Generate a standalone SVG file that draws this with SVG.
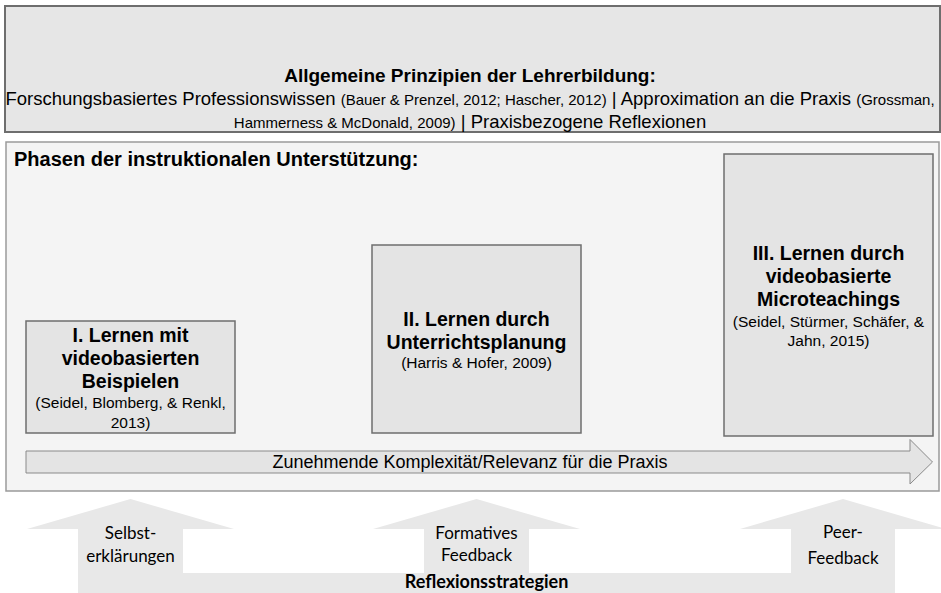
<svg xmlns="http://www.w3.org/2000/svg" width="941" height="593" viewBox="0 0 941 593">
<style>
.a{font-family:"Liberation Sans",Arial,sans-serif;fill:#000}
.c{font-family:Lato,"Open Sans",sans-serif;fill:#000}
.b{font-weight:bold}
.box{fill:#e4e4e4;stroke:#6e6e6e;stroke-width:1.5}
.t{font-size:19.5px;font-weight:bold}
.r{font-size:15.5px}
</style>
<rect x="0" y="0" width="941" height="593" fill="#fff"/>
<g id="principles">
<rect x="5" y="6" width="935" height="126" fill="#e6e6e6" stroke="#6e6e6e" stroke-width="2"/>
<text class="a b" x="470" y="82" font-size="19" text-anchor="middle">Allgemeine Prinzipien der Lehrerbildung:</text>
<text class="a" x="470" y="105" font-size="18.5" text-anchor="middle">Forschungsbasiertes Professionswissen <tspan font-size="15">(Bauer &amp; Prenzel, 2012; Hascher, 2012)</tspan> | Approximation an die Praxis <tspan font-size="15">(Grossman,</tspan></text>
<text class="a" x="470" y="128" font-size="18.5" text-anchor="middle"><tspan font-size="15">Hammerness &amp; McDonald, 2009)</tspan> | Praxisbezogene Reflexionen</text>
</g>
<g id="phases">
<rect x="6" y="142" width="933" height="349" fill="#f4f4f4" stroke="#9a9a9a" stroke-width="1.5"/>
<text class="a b" x="14" y="166" font-size="20">Phasen der instruktionalen Unterstützung:</text>
</g>
<g id="phase1">
<rect class="box" x="26" y="321" width="209" height="112"/>
<text class="a t" text-anchor="middle"><tspan x="130.5" y="342">I. Lernen mit</tspan><tspan x="130.5" y="365">videobasierten</tspan><tspan x="130.5" y="388">Beispielen</tspan></text>
<text class="a r" text-anchor="middle"><tspan x="130.5" y="408">(Seidel, Blomberg, &amp; Renkl,</tspan><tspan x="130.5" y="427.5">2013)</tspan></text>
</g>
<g id="phase2">
<rect class="box" x="372" y="245" width="209" height="188"/>
<text class="a t" text-anchor="middle"><tspan x="476.5" y="326">II. Lernen durch</tspan><tspan x="476.5" y="349">Unterrichtsplanung</tspan></text>
<text class="a r" text-anchor="middle"><tspan x="476.5" y="368">(Harris &amp; Hofer, 2009)</tspan></text>
</g>
<g id="phase3">
<rect class="box" x="724" y="154" width="209" height="282"/>
<text class="a t" text-anchor="middle"><tspan x="828.5" y="260">III. Lernen durch</tspan><tspan x="828.5" y="283">videobasierte</tspan><tspan x="828.5" y="306">Microteachings</tspan></text>
<text class="a r" text-anchor="middle"><tspan x="828.5" y="327">(Seidel, Stürmer, Schäfer, &amp;</tspan><tspan x="828.5" y="346">Jahn, 2015)</tspan></text>
</g>
<g id="connectors">
<g id="complexity-arrow">
<path d="M26,451 H910 V439.5 L932.5,462 L910,484 V473 H26 Z" fill="#e4e4e4" stroke="#8a8a8a" stroke-width="1"/>
<text class="a" x="470" y="468" font-size="18" text-anchor="middle">Zunehmende Komplexität/Relevanz für die Praxis</text>
</g>
<g id="reflection">
<path d="M78,593 V529 H27 L130.5,499 L234,529 H183 V573 H424 V529 H373 L476.5,499 L580,529 H529 V573 H791 V529 H740 L843,499 L946,529 H895 V593 Z" fill="#e8e8e8"/>
<text class="c" font-size="17" text-anchor="middle"><tspan x="130.5" y="539">Selbst-</tspan><tspan x="130.5" y="562">erklärungen</tspan></text>
<text class="c" font-size="17" text-anchor="middle"><tspan x="476.5" y="539">Formatives</tspan><tspan x="476.5" y="561">Feedback</tspan></text>
<text class="c" font-size="17" text-anchor="middle"><tspan x="843" y="538">Peer-</tspan><tspan x="843" y="564">Feedback</tspan></text>
<text class="c b" x="486.5" y="588" font-size="18" text-anchor="middle">Reflexionsstrategien</text>
</g>
</g>
</svg>
